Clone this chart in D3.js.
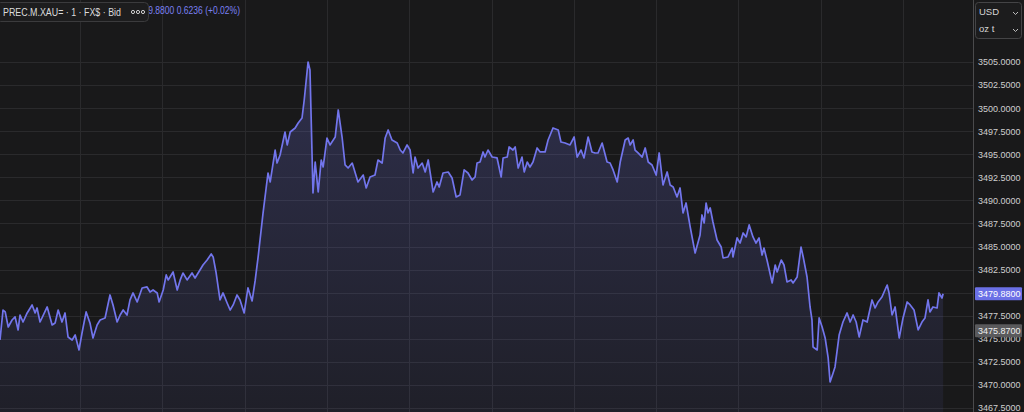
<!DOCTYPE html>
<html>
<head>
<meta charset="utf-8">
<script src="https://cdn.jsdelivr.net/npm/d3@7"></script>
<style>
  html, body { margin: 0; padding: 0; background: #19191a; overflow: hidden; }
  svg { display: block; font-family: "Liberation Sans", Arial, sans-serif; }
</style>
</head>
<body>
<svg id="chart" width="1024" height="412"></svg>
<script>
// minutes since 09:00
const minutes = [
  0.8, 1.9, 2.7, 3.8, 5.2, 6.3, 7.4, 8.1, 9.2, 10.7, 12.5, 13.6, 14.3, 15.4, 18.0,
  19.8, 20.9, 22.0, 23.4, 24.5, 25.6, 27.1, 28.2, 29.6, 30.7, 32.2, 33.6, 34.7, 36.2,
  37.3, 39.1, 40.9, 42.0, 43.5, 44.6, 45.7, 47.1, 48.2, 49.3, 50.8, 52.6, 54.4, 55.5,
  56.6, 58.1, 58.8, 60.3, 61.4, 62.1, 63.9, 65.4, 66.5, 67.5, 69.0, 70.8, 71.9, 73.7,
  74.8, 76.3, 77.8, 78.5, 79.6, 81.0, 82.1, 83.6, 84.7, 85.8, 87.2, 88.3, 89.8, 91.2,
  92.7, 93.8, 94.9, 96.7, 98.5, 99.3, 101.1, 101.8, 102.9, 104.7, 105.5, 106.6, 108.4,
  109.5, 110.9, 111.7, 113.1, 113.8, 114.9, 115.7, 116.8, 117.9, 118.6, 120.0, 121.1,
  123.0, 124.1, 125.5, 126.6, 127.7, 129.2, 131.3, 133.2, 134.3, 135.7, 137.5, 138.6,
  140.1, 141.2, 142.3, 143.7, 145.6, 146.7, 147.7, 149.2, 150.3, 151.4, 152.1, 153.2,
  154.7, 155.8, 156.9, 158.7, 160.1, 160.9, 162.3, 164.2, 165.6, 167.1, 168.5, 170.0,
  171.4, 172.9, 174.0, 174.7, 175.8, 176.9, 177.6, 178.7, 180.2, 182.0, 183.5, 184.2,
  185.7, 186.4, 187.8, 188.6, 189.7, 191.1, 191.9, 193.0, 194.0, 195.1, 196.6, 197.7,
  199.5, 200.6, 202.4, 204.3, 205.3, 206.8, 208.6, 210.1, 211.2, 212.6, 213.7, 215.2,
  216.6, 217.7, 218.8, 220.3, 222.1, 223.2, 224.3, 225.8, 226.9, 228.7, 229.8, 230.5,
  231.6, 232.3, 233.4, 234.9, 236.0, 237.1, 238.5, 240.0, 241.1, 242.5, 244.0, 245.1,
  246.2, 247.6, 248.7, 249.8, 250.9, 252.4, 254.2, 256.0, 256.7, 257.5, 258.2, 258.9,
  259.7, 260.7, 262.2, 263.7, 264.4, 266.2, 267.7, 268.0, 269.5, 270.6, 271.7, 272.8,
  273.9, 275.3, 276.4, 277.5, 278.6, 279.3, 280.4, 282.3, 283.4, 284.1, 285.6, 286.6,
  287.7, 289.2, 289.9, 291.4, 292.8, 293.6, 295.0, 296.1, 296.8, 297.2, 298.7, 299.4,
  300.5, 301.6, 302.7, 303.4, 304.5, 305.2, 306.7, 308.1, 309.6, 310.7, 311.8, 312.9,
  314.0, 315.4, 316.9, 318.7, 319.8, 320.9, 322.3, 324.2, 324.9, 326.0, 327.1, 328.6,
  330.0, 331.5, 332.6, 334.0, 335.5, 336.9, 338.0, 339.1, 339.8, 340.9, 342.4, 343.1,
  344.2, 344.6
];

// bid price, USD / oz t
const bids = [
  3474.87, 3478.12, 3477.91, 3476.28, 3477.04, 3477.37, 3475.96, 3477.58, 3476.82, 3477.80,
  3478.67, 3477.80, 3478.34, 3476.82, 3478.45, 3476.50, 3476.72, 3478.12, 3476.82, 3477.80,
  3475.20, 3474.87, 3475.41, 3473.79, 3475.63, 3477.91, 3476.72, 3475.09, 3476.50, 3477.04,
  3477.26, 3479.75, 3478.67, 3476.82, 3477.58, 3478.12, 3477.58, 3479.21, 3479.97, 3478.99,
  3480.51, 3480.62, 3480.07, 3480.29, 3479.97, 3478.99, 3480.29, 3481.92, 3481.38, 3482.24,
  3480.29, 3481.38, 3482.13, 3481.38, 3482.13, 3481.59, 3482.46, 3483.00, 3483.54, 3484.19,
  3483.87, 3482.13, 3479.21, 3479.97, 3478.88, 3478.12, 3478.67, 3479.75, 3479.21, 3477.80,
  3480.51, 3479.10, 3481.27, 3483.87, 3488.64, 3492.97, 3492.00, 3495.46, 3494.05, 3494.92,
  3497.41, 3496.01, 3497.41, 3497.85, 3498.39, 3498.93, 3500.88, 3505.00, 3504.13, 3490.80,
  3494.16, 3490.91, 3494.38, 3493.62, 3496.76, 3496.01, 3496.87, 3499.80, 3496.87, 3493.84,
  3493.51, 3494.05, 3492.00, 3492.75, 3491.35, 3492.54, 3492.75, 3494.38, 3494.05, 3496.76,
  3497.63, 3496.55, 3496.22, 3495.46, 3495.14, 3496.01, 3495.46, 3492.97, 3494.70, 3493.51,
  3494.05, 3493.08, 3494.38, 3490.91, 3492.00, 3491.45, 3492.97, 3493.08, 3492.43, 3490.37,
  3490.59, 3493.30, 3492.97, 3492.21, 3492.54, 3494.05, 3494.16, 3495.25, 3494.70, 3495.46,
  3494.70, 3494.60, 3492.54, 3494.60, 3494.70, 3495.79, 3495.46, 3495.79, 3493.51, 3494.70,
  3493.08, 3494.16, 3493.62, 3494.16, 3495.68, 3495.25, 3495.25, 3496.55, 3497.85, 3497.63,
  3496.33, 3496.22, 3496.01, 3496.87, 3494.70, 3495.46, 3494.60, 3496.87, 3495.25, 3495.14,
  3495.14, 3496.22, 3494.16, 3494.05, 3493.30, 3492.00, 3494.16, 3496.55, 3496.76, 3496.01,
  3496.55, 3495.46, 3495.14, 3494.70, 3495.68, 3494.16, 3493.84, 3492.75, 3495.14, 3491.67,
  3493.08, 3491.67, 3491.45, 3490.37, 3491.35, 3488.64, 3489.72, 3487.12, 3484.30, 3486.25,
  3488.42, 3487.55, 3489.72, 3488.64, 3489.18, 3487.66, 3485.71, 3484.95, 3483.76, 3483.87,
  3484.84, 3483.87, 3485.93, 3485.38, 3486.47, 3486.04, 3487.34, 3486.04, 3485.38, 3485.93,
  3484.08, 3484.84, 3483.54, 3481.05, 3483.00, 3482.24, 3483.54, 3483.00, 3481.16, 3481.38,
  3481.05, 3481.70, 3484.95, 3483.87, 3481.70, 3478.45, 3477.04, 3474.11, 3473.79, 3477.26,
  3476.28, 3475.09, 3472.92, 3470.32, 3471.30, 3471.95, 3475.41, 3476.82, 3477.80, 3476.82,
  3477.58, 3476.82, 3475.20, 3477.04, 3476.82, 3479.21, 3478.34, 3478.99, 3479.53, 3480.83,
  3479.97, 3477.58, 3478.45, 3475.09, 3477.26, 3478.99, 3478.67, 3478.12, 3475.96, 3476.82,
  3477.26, 3479.21, 3477.91, 3478.45, 3478.34, 3479.97, 3479.42, 3479.88
];

// axis ticks and header texts
const priceTicks = d3.range(3467.5, 3505.01, 2.5);
const timeTicks = [30, 60, 90, 120, 150, 180, 210, 240, 270, 300, 330];
const lastPrice = 3479.88;
const markPrice = 3475.87;
const instrument = "PREC.M.XAU= \u00b7 1 \u00b7 FX$ \u00b7 Bid";
const changeText = "3479.8800 0.6236 (+0.02%)";
const currency = "USD";
const unit = "oz t";

const data = minutes.map((m, i) => ({ t: m, v: bids[i] }));

function drawGraph() {
  const dimensions = {
    width: 1024,
    height: 412,
    plotWidth: 973,
  };

  const svg = d3.select("#chart");
  svg.selectAll("*").remove();

  // Scales
  const xScale = d3
    .scaleLinear()
    .domain([0.8, 355.5])
    .range([0, dimensions.plotWidth]);

  const yScale = d3
    .scaleLinear()
    .domain([3467.5, 3505])
    .range([408, 62]);

  svg
    .append("rect")
    .attr("width", dimensions.width)
    .attr("height", dimensions.height)
    .attr("fill", "#19191a");

  // Grid
  const grid = svg.append("g").classed("grid", true);
  grid
    .selectAll("line.h")
    .data(priceTicks)
    .join("line")
    .attr("class", "h")
    .attr("x1", 0)
    .attr("x2", dimensions.plotWidth)
    .attr("y1", (d) => Math.round(yScale(d)) + 0.5)
    .attr("y2", (d) => Math.round(yScale(d)) + 0.5)
    .attr("stroke", "#2a2a2c")
    .attr("stroke-width", 1);
  grid
    .selectAll("line.v")
    .data(timeTicks)
    .join("line")
    .attr("class", "v")
    .attr("x1", (d) => Math.round(xScale(d)) + 0.5)
    .attr("x2", (d) => Math.round(xScale(d)) + 0.5)
    .attr("y1", 0)
    .attr("y2", dimensions.height)
    .attr("stroke", "#2a2a2c")
    .attr("stroke-width", 1);

  // Area gradient
  const defs = svg.append("defs");
  const grad = defs
    .append("linearGradient")
    .attr("id", "areaFill")
    .attr("x1", 0)
    .attr("x2", 0)
    .attr("y1", 0)
    .attr("y2", 1);
  grad.append("stop").attr("offset", "0%").attr("stop-color", "#7376ea").attr("stop-opacity", 0.24);
  grad.append("stop").attr("offset", "100%").attr("stop-color", "#7376ea").attr("stop-opacity", 0.07);

  const areaGenerator = d3
    .area()
    .x((d) => xScale(d.t))
    .y0(dimensions.height)
    .y1((d) => yScale(d.v));

  svg
    .append("path")
    .datum(data)
    .attr("fill", "url(#areaFill)")
    .attr("d", areaGenerator);

  const lineGenerator = d3
    .line()
    .x((d) => xScale(d.t))
    .y((d) => yScale(d.v));

  svg
    .append("path")
    .datum(data)
    .attr("fill", "none")
    .attr("stroke", "#7275ec")
    .attr("stroke-width", 1.7)
    .attr("stroke-linejoin", "round")
    .attr("d", lineGenerator);

  // Right price axis
  svg
    .append("line")
    .attr("x1", dimensions.plotWidth + 0.5)
    .attr("x2", dimensions.plotWidth + 0.5)
    .attr("y1", 0)
    .attr("y2", dimensions.height)
    .attr("stroke", "#4a4a4c");

  const yAxis = d3
    .axisRight(yScale)
    .tickValues(priceTicks)
    .tickSize(0)
    .tickPadding(5)
    .tickFormat(d3.format(".4f"));

  const axisG = svg
    .append("g")
    .classed("yAxis", true)
    .attr("transform", `translate(${dimensions.plotWidth}, 0)`)
    .call(yAxis);
  axisG.select(".domain").remove();
  axisG
    .selectAll("text")
    .attr("fill", "#cfcfcf")
    .style("font-size", "9px");

  // price labels
  const badge = (value, bg, fg) => {
    const g = svg
      .append("g")
      .attr("transform", `translate(${dimensions.plotWidth + 2}, ${yScale(value)})`);
    g.append("rect")
      .attr("x", 0)
      .attr("y", -6.5)
      .attr("width", 47)
      .attr("height", 13)
      .attr("rx", 1)
      .attr("fill", bg);
    g.append("text")
      .attr("x", 3)
      .attr("dy", "0.35em")
      .attr("fill", fg)
      .style("font-size", "9px")
      .text(d3.format(".4f")(value));
  };
  badge(markPrice, "#5a5a5c", "#f0f0f0");
  badge(lastPrice, "#6b70e6", "#ffffff");

  // Unit selectors
  const sel = svg.append("g").attr("transform", "translate(975, 2)");
  sel
    .append("rect")
    .attr("x", 0.5)
    .attr("y", 0.5)
    .attr("width", 46)
    .attr("height", 36)
    .attr("rx", 3)
    .attr("fill", "#1c1c1d")
    .attr("stroke", "#444446");
  [currency, unit].forEach((label, i) => {
    sel
      .append("text")
      .attr("x", 4)
      .attr("y", 13 + i * 17)
      .attr("fill", "#d6d6d6")
      .style("font-size", "9.5px")
      .text(label);
    sel
      .append("path")
      .attr("d", `M38,${10 + i * 17} l2.5,2.5 l2.5,-2.5`)
      .attr("fill", "none")
      .attr("stroke", "#bdbdbd")
      .attr("stroke-width", 1);
  });

  // Header: last value runs in under the instrument box
  svg
    .append("text")
    .attr("x", 134)
    .attr("y", 14)
    .attr("fill", "#7b80f2")
    .attr("textLength", 106)
    .attr("lengthAdjust", "spacingAndGlyphs")
    .style("font-size", "10px")
    .text(changeText);

  const head = svg.append("g").attr("transform", "translate(0, 2)");
  head
    .append("rect")
    .attr("x", -3.5)
    .attr("y", 0.5)
    .attr("width", 152)
    .attr("height", 19)
    .attr("rx", 4)
    .attr("fill", "#1d1d1e")
    .attr("stroke", "#3b3b3d");
  head
    .append("text")
    .attr("x", 3)
    .attr("y", 13.5)
    .attr("fill", "#dcdcdc")
    .attr("textLength", 118)
    .attr("lengthAdjust", "spacingAndGlyphs")
    .style("font-size", "10.5px")
    .text(instrument);
  [133, 138, 143].forEach((cx) => {
    head
      .append("circle")
      .attr("cx", cx)
      .attr("cy", 10)
      .attr("r", 1.6)
      .attr("fill", "none")
      .attr("stroke", "#cfcfcf")
      .attr("stroke-width", 1);
  });
}

drawGraph();
</script>
</body>
</html>
